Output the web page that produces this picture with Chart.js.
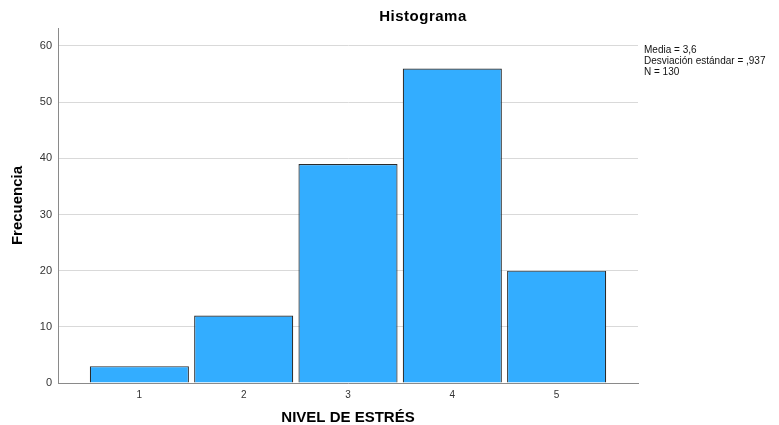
<!DOCTYPE html>
<html>
<head>
<meta charset="utf-8">
<script src="https://cdn.jsdelivr.net/npm/chart.js@4/dist/chart.umd.min.js"></script>
<style>
  body { margin: 0; background: #fff; }
  canvas { display: block; }
</style>
</head>
<body>
<canvas id="myChart" width="779" height="425"></canvas>
<script>
// datos del histograma
const niveles = [1, 2, 3, 4, 5];
const frecuencias = [3, 12, 39, 56, 20];
const yTicks = [0, 10, 20, 30, 40, 50, 60];
const statsLines = ["Media = 3,6", "Desviación estándar = ,937", "N = 130"];

const fontName = "'Liberation Sans', Arial, sans-serif";

// titulo y cuadro de estadisticas (como en SPSS)
const textosSpss = {
  id: "textosSpss",
  afterDraw(chart) {
    const ctx = chart.ctx;
    ctx.save();
    ctx.fillStyle = "#000";
    ctx.font = "bold 15px " + fontName;
    ctx.letterSpacing = "0.5px";
    ctx.textAlign = "center";
    ctx.textBaseline = "middle";
    ctx.fillText("Histograma", 423, 17);
    ctx.letterSpacing = "0px";

    ctx.font = "10px " + fontName;
    ctx.textAlign = "left";
    ctx.fillStyle = "#111";
    statsLines.forEach((t, i) => {
      ctx.fillText(t, chart.chartArea.right + 6, 50 + i * 11);
    });
    ctx.restore();
  }
};

const ctx = document.getElementById("myChart");

const data = {
  datasets: [{
    label: "Frecuencia",
    data: niveles.map((n, i) => ({ x: n, y: frecuencias[i] })),
    backgroundColor: "#33adff",
    borderColor: "#2b2b2b",
    borderWidth: 1.2,
    barPercentage: 0.95,
    categoryPercentage: 1
  }]
};

const config = {
  type: "bar",
  data: data,
  options: {
    responsive: false,
    animation: false,
    layout: { padding: { left: 0, right: 141, top: 28, bottom: 0 } },
    plugins: {
      legend: { display: false },
      tooltip: { enabled: false }
    },
    scales: {
      x: {
        type: "linear",
        offset: false,
        min: 0.22,
        max: 5.78,
        afterFit: s => { s.height = 42; },
        afterBuildTicks: s => { s.ticks = niveles.map(v => ({ value: v })); },
        grid: { display: false, drawTicks: false, offset: false },
        border: { color: "#8a8a8a", width: 1 },
        ticks: {
          includeBounds: false,
          padding: 6,
          color: "#333",
          font: { family: fontName, size: 10 }
        },
        title: {
          display: true,
          text: "NIVEL DE ESTRÉS",
          color: "#000",
          padding: { top: 0, bottom: 0 },
          font: { family: fontName, size: 15, weight: "bold", lineHeight: 1 }
        }
      },
      y: {
        min: 0,
        max: 63.2,
        afterFit: s => { s.width = 58; },
        afterBuildTicks: s => { s.ticks = yTicks.map(v => ({ value: v })); },
        grid: { color: "#d9d9d9", lineWidth: 1, drawTicks: false },
        border: { color: "#8a8a8a", width: 1 },
        ticks: {
          includeBounds: false,
          padding: 6,
          color: "#333",
          font: { family: fontName, size: 11 }
        },
        title: {
          display: true,
          text: "Frecuencia",
          color: "#000",
          padding: { top: 10, bottom: 0 },
          font: { family: fontName, size: 15, weight: "bold", lineHeight: 1 }
        }
      }
    }
  },
  plugins: [textosSpss]
};

const myChart = new Chart(ctx, config);
</script>
</body>
</html>
